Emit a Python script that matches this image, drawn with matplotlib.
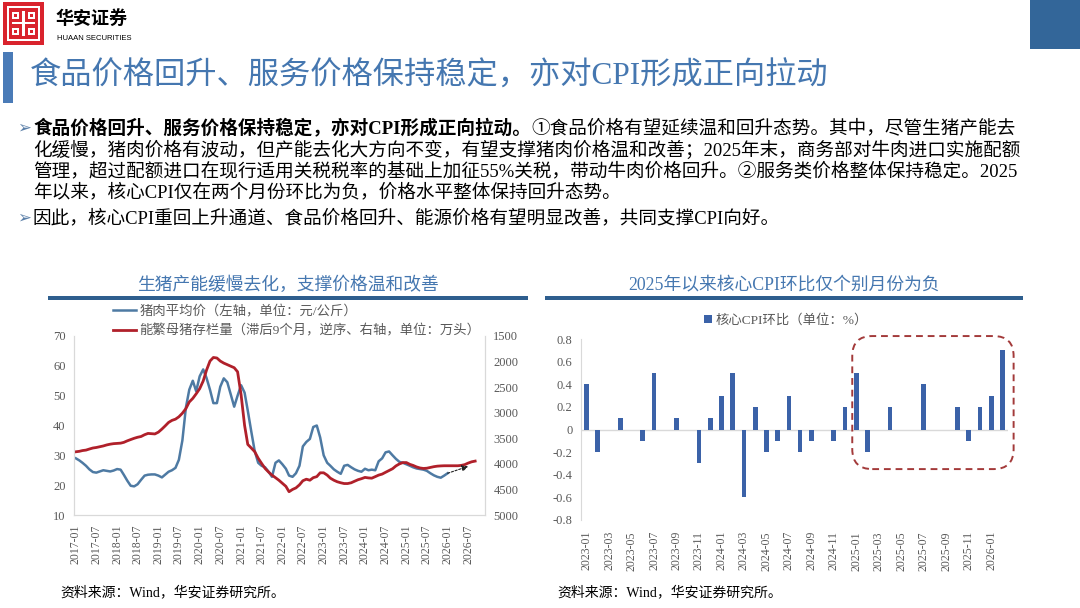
import matplotlib
matplotlib.use('Agg')
import matplotlib.pyplot as plt
import matplotlib.dates as mdates
import numpy as np
import pandas as pd
from matplotlib.patches import Rectangle, FancyBboxPatch

plt.rcParams['font.family'] = ['Liberation Serif', 'Noto Sans CJK SC', 'DejaVu Sans']
plt.rcParams['axes.unicode_minus'] = False

# ---- data ----
# 猪肉平均价, 元/公斤, monthly from 2017-01
pork_price = [29.0, 28.3, 27.5, 26.5, 25.3, 24.4, 24.2, 24.6, 25.0, 24.8, 24.6, 24.9,
              25.4, 25.2, 23.5, 21.5, 19.8, 19.6, 20.3, 21.8, 23.2, 23.5, 23.6, 23.6,
              23.2, 22.6, 23.5, 24.5, 25.0, 25.8, 28.5, 35.0, 46.0, 52.0, 55.0, 51.5,
              56.5, 58.8, 56.0, 52.0, 47.5, 47.5, 53.0, 55.8, 54.5, 50.5, 46.3, 50.0,
              53.5, 51.0, 45.0, 38.0, 31.5, 27.5, 26.5, 26.0, 24.5, 22.8, 27.5, 28.3,
              27.0, 25.5, 23.2, 22.8, 24.0, 26.5, 33.0, 34.5, 35.5, 39.5, 40.0, 36.0,
              30.0, 27.5, 26.5, 25.3, 24.5, 23.8, 26.5, 26.8, 26.0, 25.3, 24.8, 24.5,
              25.5, 25.0, 25.2, 25.0, 28.0, 29.0, 31.0, 31.3, 30.0, 28.8, 27.8, 27.5,
              27.0, 26.5, 26.0, 25.6, 25.4, 25.2, 24.8, 24.0, 23.3, 22.8, 22.5, 23.2,
              24.0]
# 能繁母猪存栏量 (滞后9个月), 万头, monthly from 2017-01
sow_stock = [3764, 3755, 3740, 3731, 3710, 3690, 3680, 3665, 3650, 3630, 3615, 3605,
             3600, 3595, 3580, 3550, 3525, 3500, 3480, 3465, 3430, 3405, 3410, 3415,
             3380, 3320, 3260, 3190, 3150, 3126, 3080, 3010, 2920, 2790, 2720, 2630,
             2530, 2380, 2170, 1990, 1920, 1930, 1990, 2030, 2060, 2090, 2120, 2200,
             2650, 3250, 3620, 3690, 3760, 3890, 3990, 4090, 4160, 4220, 4270, 4320,
             4380, 4440, 4545, 4500, 4470, 4410, 4330, 4300, 4320, 4270, 4250, 4175,
             4175, 4220, 4280, 4320, 4350, 4370, 4385, 4385, 4370, 4340, 4310, 4290,
             4265, 4275, 4280, 4250, 4220, 4200, 4165, 4130, 4095, 4040, 4000, 3975,
             3975, 4010, 4030, 4060, 4080, 4090, 4085, 4070, 4055, 4045, 4040, 4037,
             4037, 4037, 4037, 4037, 4030, 4015, 3985, 3960, 3946]
# 核心CPI环比, %, monthly from 2023-01
core_cpi_mom = [0.4, -0.2, 0.0, 0.1, 0.0, -0.1, 0.5, 0.0, 0.1, 0.0, -0.3, 0.1,
                0.3, 0.5, -0.6, 0.2, -0.2, -0.1, 0.3, -0.2, -0.1, 0.0, -0.1, 0.2,
                0.5, -0.2, 0.0, 0.2, 0.0, 0.0, 0.4, 0.0, 0.0, 0.2, -0.1, 0.2,
                0.3, 0.7]
arrow_tip = ('2026-07-01', 26.3)   # end of the dotted trend arrow (left axis)

pork_dates = pd.date_range('2017-01-01', periods=len(pork_price), freq='MS')
sow_dates = pd.date_range('2017-01-01', periods=len(sow_stock), freq='MS')
cpi_months = pd.date_range('2023-01-01', periods=len(core_cpi_mom), freq='MS').strftime('%Y-%m')

W, H = 1080, 608
fig = plt.figure(figsize=(W / 100, H / 100), dpi=100)


def fx(x):
    return x / W


def fy(y):
    return 1 - y / H


def box(x0, y0, x1, y1, color, **kw):
    fig.patches.append(Rectangle((fx(x0), fy(y1)), (x1 - x0) / W, (y1 - y0) / H,
                                 transform=fig.transFigure, color=color, lw=0, **kw))


GREY = '#595959'
TITLE_BLUE = '#4577b0'

# ---- header ----
box(3, 2, 44, 45, '#d9232d')
for (a, b, c, d) in [(7, 6, 40, 8), (7, 39, 40, 41), (7, 6, 9, 41), (38, 6, 40, 41),
                     (12, 22, 35, 24), (22, 11, 25, 36), (12, 12, 19, 19), (28, 12, 35, 19),
                     (12, 28, 19, 35), (28, 28, 35, 35)]:
    box(a, b, c, d, 'white')
box(14, 14, 17, 17, '#d9232d')
box(30, 14, 33, 17, '#d9232d')
box(14, 30, 17, 33, '#d9232d')
box(30, 30, 33, 33, '#d9232d')
fig.text(fx(55), fy(19), '华安证券', fontsize=13, fontweight='bold', color='black', va='center')
fig.text(fx(57), fy(38), 'HUAAN SECURITIES', fontsize=5.5, family='Liberation Sans',
         color='black', va='center')
box(1030, 0, 1080, 49, '#336699')
box(3, 52, 13, 103, '#4a7bb7')
fig.text(fx(30), fy(77), '食品价格回升、服务价格保持稳定，亦对CPI形成正向拉动',
         fontsize=22.5, color=TITLE_BLUE, va='center')

# ---- bullet text ----
fs = 13.4
renderer = fig.canvas.get_renderer()
for yb in (128, 218):
    fig.text(fx(17), fy(yb), '➢', fontsize=12, family='DejaVu Sans', color='#5a7fa8', va='center')
t1 = fig.text(fx(33), fy(128), '食品价格回升、服务价格保持稳定，亦对CPI形成正向拉动。',
              fontsize=fs, fontweight='bold', color='black', va='center')
bb = t1.get_window_extent(renderer)
fig.text(bb.x1 / W, fy(128), '①食品价格有望延续温和回升态势。其中，尽管生猪产能去',
         fontsize=fs, color='black', va='center')
lines = ['化缓慢，猪肉价格有波动，但产能去化大方向不变，有望支撑猪肉价格温和改善；2025年末，商务部对牛肉进口实施配额',
         '管理，超过配额进口在现行适用关税税率的基础上加征55%关税，带动牛肉价格回升。②服务类价格整体保持稳定。2025',
         '年以来，核心CPI仅在两个月份环比为负，价格水平整体保持回升态势。']
for i, s in enumerate(lines):
    fig.text(fx(33), fy(150 + 21.3 * i), s, fontsize=fs, color='black', va='center')
fig.text(fx(33), fy(218), '因此，核心CPI重回上升通道、食品价格回升、能源价格有望明显改善，共同支撑CPI向好。',
         fontsize=fs, color='black', va='center')

# ---- chart titles ----
fig.text(fx(288), fy(285), '生猪产能缓慢去化，支撑价格温和改善', fontsize=12.8,
         color=TITLE_BLUE, ha='center', va='center')
box(48, 296, 528, 300, '#2e5e8e')
fig.text(fx(784), fy(285), '2025年以来核心CPI环比仅个别月份为负', fontsize=12.8,
         color=TITLE_BLUE, ha='center', va='center')
box(545, 296, 1023, 300, '#2e5e8e')

# ---- left chart ----
ax = fig.add_axes([fx(74), fy(515), (485 - 74) / W, (515 - 336) / H])
ax2 = ax.twinx()
l1, = ax.plot(pork_dates, pork_price, color='#4e7aa3', lw=1.8)
l2, = ax2.plot(sow_dates, sow_stock, color='#b0202a', lw=2.0)
ax.set_ylim(10, 70)
ax.set_yticks(range(10, 71, 10))
ax2.set_ylim(5000, 1500)
ax2.set_yticks(range(1500, 5001, 500))
ax.set_xlim(pd.Timestamp('2016-12-16'), pd.Timestamp('2026-11-27'))
ticks = pd.date_range('2017-01-01', '2026-07-01', freq='6MS')
ax.set_xticks(ticks)
ax.set_xticklabels(ticks.strftime('%Y-%m'), rotation=90)
for a in (ax, ax2):
    a.tick_params(length=0, labelsize=9, colors=GREY, pad=6)
    for side in ('left', 'right', 'bottom'):
        a.spines[side].set_color('#d9d9d9')
    a.spines['top'].set_visible(False)
ax.tick_params(axis='x', labelsize=8.5, pad=7)
ax2.annotate('', xy=(mdates.date2num(pd.Timestamp(arrow_tip[0])), arrow_tip[1]),
             xytext=(mdates.date2num(pork_dates[-1]), pork_price[-1]),
             xycoords=ax.transData, textcoords=ax.transData,
             arrowprops=dict(arrowstyle='-|>', linestyle=(0, (2, 1.5)), color='#222222',
                             lw=0.8, mutation_scale=9, shrinkA=0, shrinkB=0))
fig.legend([l1, l2], ['猪肉平均价（左轴，单位：元/公斤）',
                      '能繁母猪存栏量（滞后9个月，逆序、右轴，单位：万头）'],
           loc='upper left', bbox_to_anchor=(fx(113), fy(305)), bbox_transform=fig.transFigure,
           frameon=False, fontsize=9.6, labelcolor=GREY, handlelength=1.75,
           handletextpad=0.25, labelspacing=0.5, borderpad=0, borderaxespad=0)

# ---- right chart ----
bx = fig.add_axes([fx(581), fy(520), (1008 - 581) / W, (520 - 339) / H])
x = np.arange(len(core_cpi_mom))
bars = bx.bar(x, core_cpi_mom, width=0.42, color='#3b62a8', zorder=3)
bx.axhline(0, color='#d9d9d9', lw=1, zorder=2)
bx.set_xlim(-0.5, len(core_cpi_mom) - 0.5)
bx.set_ylim(-0.8, 0.8)
bx.set_yticks(np.arange(-0.8, 0.81, 0.2))
bx.set_yticklabels([f'{v:.1f}'.replace('-0.0', '0').replace('0.0', '0') for v in np.arange(-0.8, 0.81, 0.2)])
bx.set_xticks(x[::2])
bx.set_xticklabels(cpi_months[::2], rotation=90)
bx.tick_params(length=0, labelsize=9, colors=GREY, pad=6)
bx.tick_params(axis='x', labelsize=8.5, pad=8)
for side in ('top', 'right', 'bottom'):
    bx.spines[side].set_visible(False)
bx.spines['left'].set_color('#d9d9d9')
bx.legend([bars], ['核心CPI环比（单位：%）'], loc='upper left',
          bbox_to_anchor=(fx(704), fy(314)), bbox_transform=fig.transFigure,
          frameon=False, fontsize=9.6, labelcolor=GREY, handlelength=0.6, handleheight=0.6,
          handletextpad=0.3, borderpad=0, borderaxespad=0)
hl = FancyBboxPatch((23.64, -0.35), 14.36, 1.176,
                    boxstyle='round,pad=0,rounding_size=1.78', mutation_aspect=0.0993,
                    fill=False, edgecolor='#a33a3a', lw=1.4, linestyle=(0, (3.5, 2.5)),
                    clip_on=False, zorder=4)
bx.add_patch(hl)

# ---- sources ----
fig.text(fx(60), fy(592), '资料来源：Wind，华安证券研究所。', fontsize=10, color='black', va='center')
fig.text(fx(557), fy(592), '资料来源：Wind，华安证券研究所。', fontsize=10, color='black', va='center')

fig.savefig('out.png', dpi=100)
